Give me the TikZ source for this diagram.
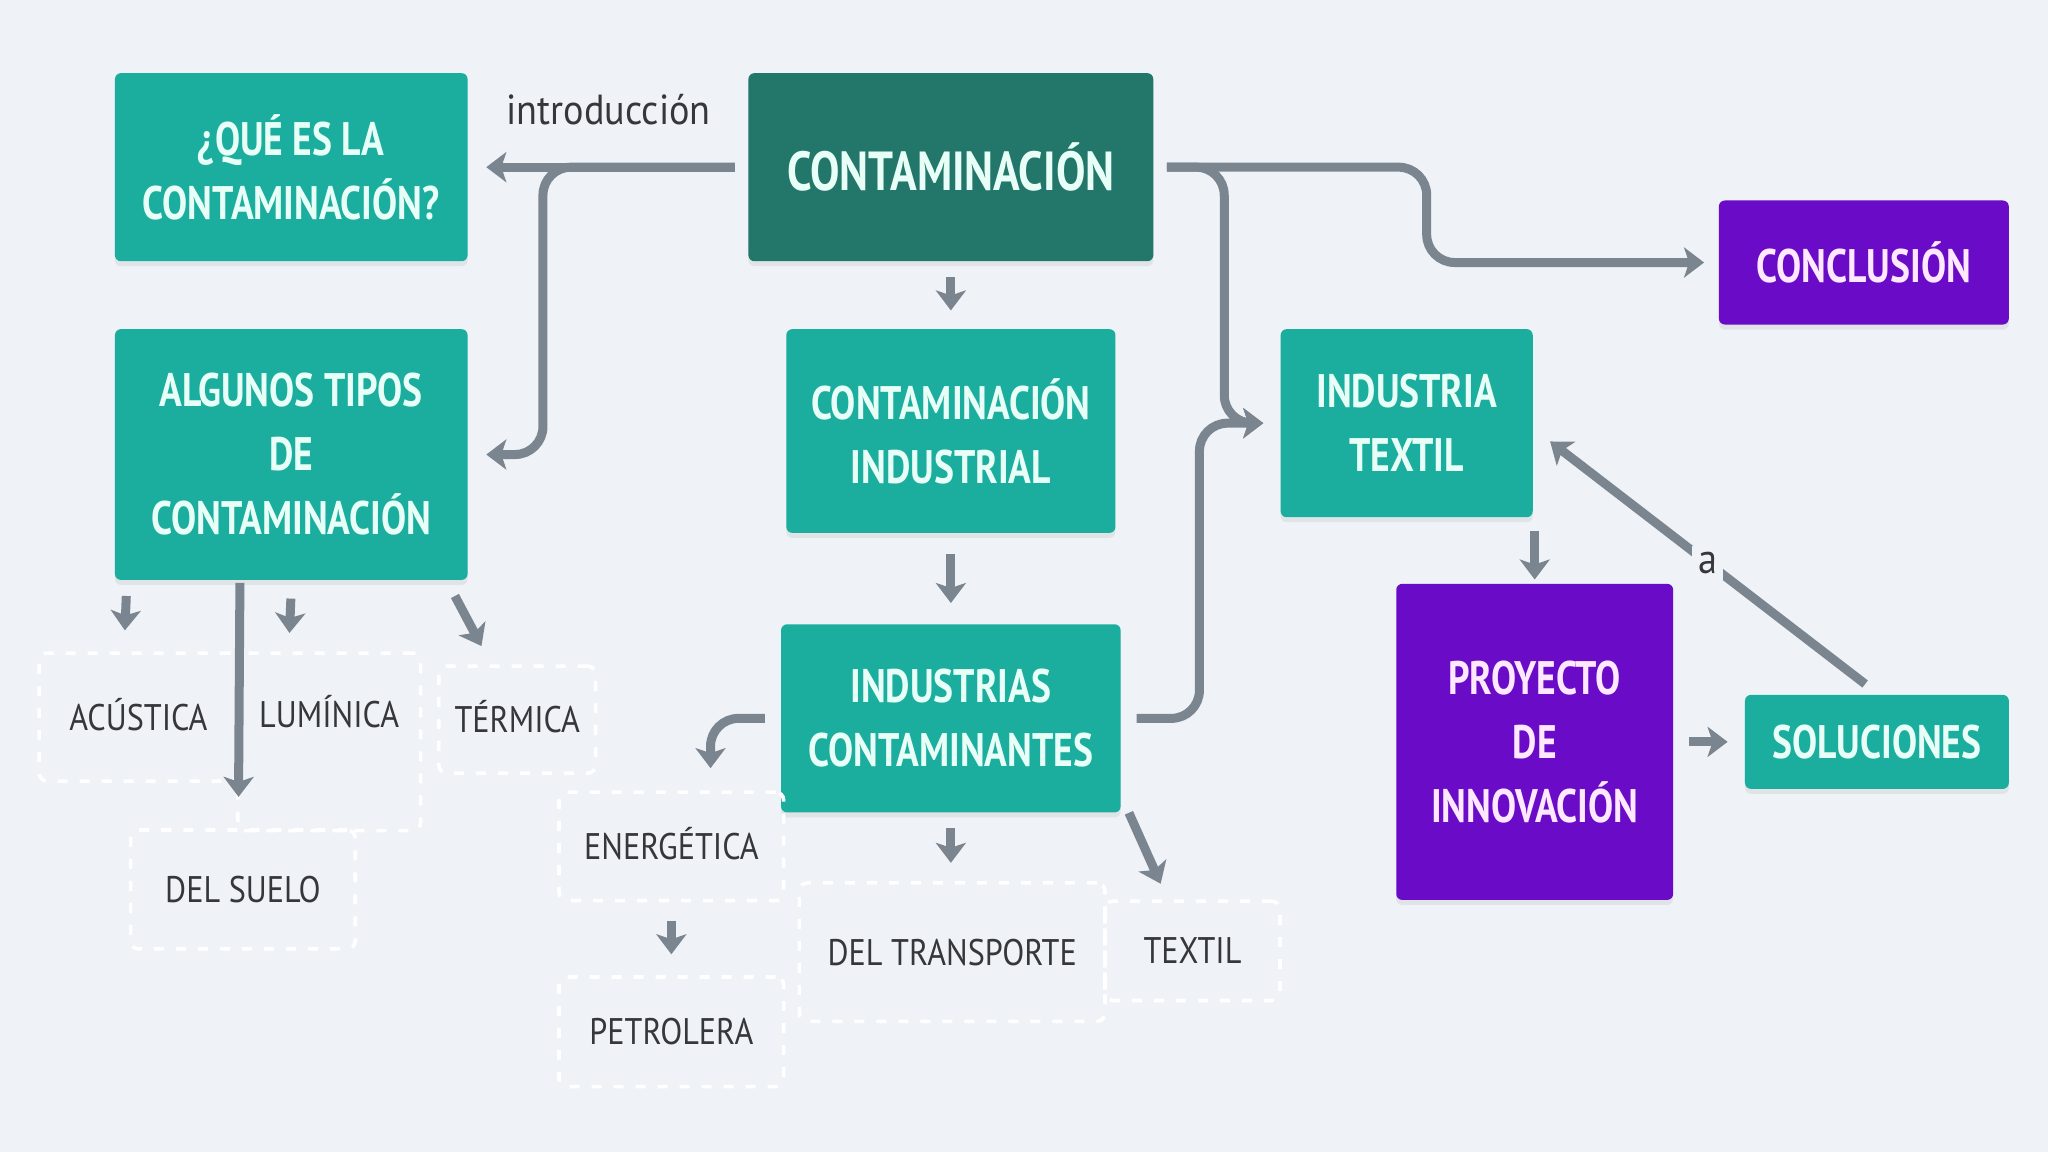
\documentclass[tikz,border=0pt]{standalone}
\usepackage{fontspec}
\setmainfont{PT Sans}
\newfontfamily\boxfont{PT Sans}[FakeStretch=0.8]
\newfontfamily\lblfont{PT Sans}[FakeStretch=0.87]
\newfontfamily\introfont{PT Sans}[FakeStretch=0.91]
\usetikzlibrary{arrows.meta,calc,shadows}
\definecolor{bg}{HTML}{EFF2F6}
\definecolor{teal}{HTML}{1BAE9E}
\definecolor{darkteal}{HTML}{23766A}
\definecolor{purp}{HTML}{6A0BC8}
\definecolor{conn}{HTML}{7B8590}
\definecolor{tealtxt}{HTML}{E8FFF7}
\definecolor{purptxt}{HTML}{FDE8FF}
\definecolor{lbltxt}{HTML}{36373A}
\tikzset{
  bx/.style 2 args={minimum width=#1*0.653pt, minimum height=#2*0.653pt},
  mainbox/.style={rectangle, rounded corners=3pt, inner sep=0pt, align=center,
    drop shadow={shadow xshift=0pt, shadow yshift=-2.5pt, opacity=0.12},
    font=\boxfont\bfseries\fontsize{23.5}{32}\selectfont},
  tealbox/.style={mainbox, fill=teal, text=tealtxt},
  darkbox/.style={mainbox, fill=darkteal, text=tealtxt, font=\boxfont\bfseries\fontsize{27.5}{32}\selectfont},
  purpbox/.style={mainbox, fill=purp, text=purptxt},
  dashbox/.style={rectangle, rounded corners=4pt, draw=white, line width=1.8pt,
    dash pattern=on 5pt off 6pt, inner sep=0pt, text=lbltxt,
    text height=13pt, text depth=0pt,
    font=\lblfont\fontsize{18.5}{22}\selectfont},
  arr/.style={draw=conn, line width=4.5pt, -{Stealth[length=10pt,width=15pt,inset=2.5pt]}},
  curvarr/.style={arr, rounded corners=14pt},
  lbl/.style={text=lbltxt, inner sep=2pt}
}
\begin{document}
\begin{tikzpicture}[x=0.653pt,y=-0.653pt]
\fill[bg] (0,0) rectangle (1568,882);
\useasboundingbox (0,0) rectangle (1568,882);

% main boxes
\node[tealbox, bx={270}{144}] (q) at (223,128) {¿QUÉ ES LA\\CONTAMINACIÓN?};
\node[tealbox, bx={270}{192}] (alg) at (223,348) {ALGUNOS TIPOS\\DE\\CONTAMINACIÓN};
\node[darkbox, bx={310}{144}] (cont) at (728,128) {CONTAMINACIÓN};
\node[tealbox, bx={252}{156}] (ci) at (728,330) {CONTAMINACIÓN\\INDUSTRIAL};
\node[tealbox, bx={260}{144}] (ic) at (728,550) {INDUSTRIAS\\CONTAMINANTES};
\node[tealbox, bx={193}{144}] (it) at (1077,324) {INDUSTRIA\\TEXTIL};
\node[purpbox, bx={222}{95}] (concl) at (1427,201) {CONCLUSIÓN};
\node[purpbox, bx={212}{242}] (proy) at (1175,568) {PROYECTO\\DE\\INNOVACIÓN};
\node[tealbox, bx={202}{72}] (sol) at (1437,568) {SOLUCIONES};

% dashed boxes
\node[dashbox, bx={152}{98}] (acu) at (106,549) {ACÚSTICA};
\node[dashbox, bx={140}{136}] (lum) at (252,568) {\raisebox{13.7pt}{LUMÍNICA}};
\node[dashbox, bx={120}{82}] (ter) at (396,551) {TÉRMICA};
\node[dashbox, bx={172}{91}] (suelo) at (186,681) {DEL SUELO};
\node[dashbox, bx={172}{83}] (ene) at (514,648) {ENERGÉTICA};
\node[dashbox, bx={172}{84}] (pet) at (514,790) {PETROLERA};
\node[dashbox, bx={234}{106}] (dtr) at (729,729) {DEL TRANSPORTE};
\node[dashbox, bx={134}{76}] (tex) at (913,728) {TEXTIL};

% connectors
\draw[arr] ($(cont.west)+(-10,0)$) -- ($(q.east)+(14,0)$);
\node[lbl, font=\introfont\fontsize{21}{24}\selectfont] (intro) at (466,84) {introducción};
\draw[curvarr] ($(cont.west)+(-10,0)$) -- ++(-147,0) |- ($(alg.east)+(14,0)$);
\draw[curvarr] ($(cont.east)+(10,0)$) -- ++(199,0) |- ($(concl.west)+(-11,0)$);
\draw[curvarr] ($(cont.east)+(10,0)$) -- ++(44,0) |- ($(it.west)+(-13,0)$);
\draw[curvarr] ($(ic.east)+(12,0)$) -- ++(48,0) |- ($(it.west)+(-13,0)$);
\draw[arr] ($(cont.south)+(0,12)$) -- ($(ci.north)+(0,-14)$);
\draw[arr] ($(ci.south)+(0,16)$) -- ($(ic.north)+(0,-16)$);
\draw[curvarr] ($(ic.west)+(-12,0)$) -| ($(ene.north)+(30,-17)$);
\draw[arr] ($(ic.south)+(0,12)$) -- ($(ic.south |- dtr.north)+(0,-14)$);
\draw[arr] ($(ic.south east)+(6,0)$) -- ($(tex.north west)+(44,-12)$);
\draw[arr] ($(ene.south)+(0,14)$) -- ($(pet.north)+(0,-16)$);
\draw[arr] ($(alg.south west)+(9,12)$) -- ($(acu.north west)+(67,-16)$);
\draw[arr] ($(alg.south west)+(96,2)$) -- ($(suelo.north west)+(84,-24)$);
\draw[arr] ($(alg.south west)+(135,14)$) -- ($(lum.north west)+(41,-14)$);
\draw[arr] ($(alg.south east)+(-10,12)$) -- ($(ter.north west)+(34,-14)$);
\draw[arr] ($(it.south -| proy.north)+(0,10)$) -- ($(proy.north)+(0,-3)$);
\draw[arr] ($(proy.east)+(12,0)$) -- ($(sol.west)+(-13,0)$);
\draw[arr] ($(sol.north)+(-9,-8)$) -- ($(it.east)+(13,14)$)
  node[pos=0.5, fill=bg, text=lbltxt, inner sep=3pt, font=\introfont\fontsize{21}{24}\selectfont] (alab) {a};
\end{tikzpicture}
\end{document}
